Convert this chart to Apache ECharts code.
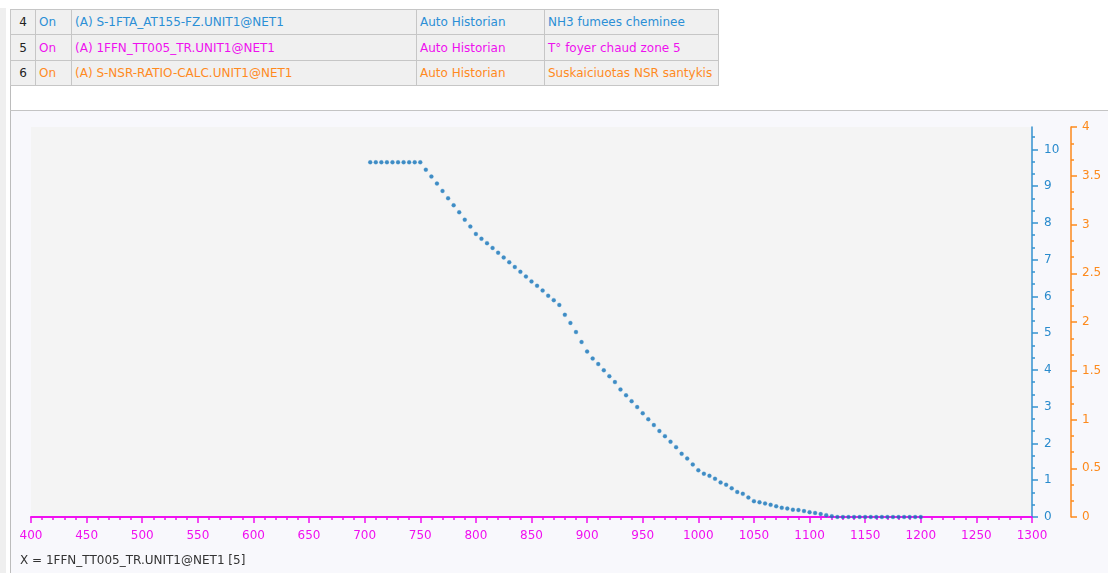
<!DOCTYPE html>
<html>
<head>
<meta charset="utf-8">
<script src="https://cdn.jsdelivr.net/npm/echarts@6/dist/echarts.min.js"></script>
<style>
  html, body { margin:0; padding:0; width:1108px; height:573px; overflow:hidden; background:#ffffff; font-family:"DejaVu Sans", sans-serif; }
  #strip { position:absolute; left:0; top:8px; width:6px; height:565px; background:#efefef; }
  #frame { position:absolute; left:10px; top:85px; width:1098px; height:488px; border-left:1px solid #bcbcbc; box-sizing:border-box; }
  #hline { position:absolute; left:10px; top:110px; width:1098px; height:1px; background:#c4c4c4; }
  #tbl { position:absolute; left:10px; top:9px; border-collapse:collapse; font-size:12px; background:#f0f0f0; }
  #tbl td { border:1px solid #c6c6c6; height:25px; padding:0 0 0 3px; white-space:nowrap; box-sizing:border-box; }
  #tbl td.n { text-align:center; padding:0; color:#222; width:25px; }
  #chart { position:absolute; left:11px; top:111px; width:1097px; height:462px; background:#f8f8fc; }
</style>
</head>
<body>
<div id="strip"></div>
<div id="frame"></div>
<div id="hline"></div>
<table id="tbl"></table>
<div id="chart"></div>
<script>
// ---- data ----
const rowNumbers = ['4', '5', '6'];
const rowStates = ['On', 'On', 'On'];
const rowTags = ['(A) S-1FTA_AT155-FZ.UNIT1@NET1', '(A) 1FFN_TT005_TR.UNIT1@NET1', '(A) S-NSR-RATIO-CALC.UNIT1@NET1'];
const rowSources = ['Auto Historian', 'Auto Historian', 'Auto Historian'];
const rowDescriptions = ['NH3 fumees cheminee', 'T\u00b0 foyer chaud zone 5', 'Suskaiciuotas NSR santykis'];
const rowColors = ['#2b8fd6', '#ee10ee', '#ff8a1e'];

// X: 1FFN_TT005_TR (T° foyer chaud zone 5)
const temps = [
  705, 710, 715, 720, 725, 730, 735, 740, 745, 750,
  755, 760, 765, 770, 775, 780, 785, 790, 795, 800,
  805, 810, 815, 820, 825, 830, 835, 840, 845, 850,
  855, 860, 865, 870, 875, 880, 885, 890, 895, 900,
  905, 910, 915, 920, 925, 930, 935, 940, 945, 950,
  955, 960, 965, 970, 975, 980, 985, 990, 995, 1000,
  1005, 1010, 1015, 1020, 1025, 1030, 1035, 1040, 1045, 1050,
  1055, 1060, 1065, 1070, 1075, 1080, 1085, 1090, 1095, 1100,
  1105, 1110, 1115, 1120, 1125, 1130, 1135, 1140, 1145, 1150,
  1155, 1160, 1165, 1170, 1175, 1180, 1185, 1190, 1195, 1200
];
// Y: S-1FTA_AT155-FZ (NH3 fumees cheminee)
const nh3 = [
  9.65, 9.65, 9.65, 9.65, 9.65, 9.65, 9.65, 9.65, 9.65, 9.65,
  9.45, 9.26, 9.07, 8.87, 8.67, 8.48, 8.29, 8.09, 7.90, 7.70,
  7.57, 7.45, 7.32, 7.19, 7.06, 6.93, 6.80, 6.67, 6.54, 6.41,
  6.29, 6.16, 6.02, 5.90, 5.77, 5.50, 5.28, 5.03, 4.76, 4.50,
  4.31, 4.16, 3.99, 3.83, 3.67, 3.47, 3.31, 3.15, 2.99, 2.82,
  2.66, 2.50, 2.34, 2.20, 2.05, 1.90, 1.72, 1.59, 1.43, 1.27,
  1.18, 1.12, 1.04, 0.94, 0.88, 0.78, 0.68, 0.63, 0.53, 0.43,
  0.40, 0.37, 0.33, 0.29, 0.25, 0.23, 0.20, 0.19, 0.16, 0.13,
  0.11, 0.08, 0.05, 0.02, 0, 0, 0, 0, 0, 0,
  0, 0, 0, 0, 0, 0, 0, 0, 0, 0
];
const leftTicks = [0, 1, 2, 3, 4, 5, 6, 7, 8, 9, 10];
const xLabel = 'X = 1FFN_TT005_TR.UNIT1@NET1 [5]';

// ---- table ----
const tbl = document.getElementById('tbl');
const widths = [25, 36, 345, 128, 174];
rowNumbers.forEach((n, i) => {
  const tr = document.createElement('tr');
  const cells = [n, rowStates[i], rowTags[i], rowSources[i], rowDescriptions[i]];
  cells.forEach((c, j) => {
    const td = document.createElement('td');
    td.textContent = c;
    td.style.width = widths[j] + 'px';
    td.style.minWidth = widths[j] + 'px';
    td.style.maxWidth = widths[j] + 'px';
    if (j === 0) td.className = 'n'; else td.style.color = rowColors[i];
    if (i === 1) td.style.height = '26px';
    tr.appendChild(td);
  });
  tbl.appendChild(tr);
});

// ---- chart ----
const minorLeft = [];
for (let k = 0; k < leftTicks.length; k++) {
  minorLeft.push(leftTicks[k] + 1 / 3, leftTicks[k] + 2 / 3);
}
const BLUE = '#3592d0';
const MAG = '#f010f0';
const ORA = '#fd8a1c';
const plain = v => String(v);
const chart = echarts.init(document.getElementById('chart'));
chart.setOption({
  animation: false,
  textStyle: { fontFamily: 'DejaVu Sans' },
  grid: { left: 20, right: 76, top: 16, bottom: 56, show: true, backgroundColor: '#f4f4f4', borderWidth: 0 },
  xAxis: {
    type: 'value', min: 400, max: 1300, interval: 50,
    axisLine: { show: true, onZero: false, lineStyle: { color: MAG, width: 2 } },
    axisTick: { show: true, length: 6, lineStyle: { color: MAG, width: 1.5 } },
    minorTick: { show: true, splitNumber: 5, length: 3, lineStyle: { color: MAG, width: 1.5 } },
    axisLabel: { color: MAG, fontSize: 12, margin: 13, formatter: plain },
    splitLine: { show: false }
  },
  yAxis: [
    {
      type: 'value', position: 'right', offset: 0, min: 0, max: 10.61, interval: 1,
      axisLine: { show: true, lineStyle: { color: BLUE, width: 1.5 } },
      axisTick: { show: true, length: 6, customValues: leftTicks, lineStyle: { color: BLUE, width: 1.5 } },
      axisLabel: { color: '#2a8bcd', fontSize: 12, margin: 12, customValues: leftTicks, formatter: plain },
      splitLine: { show: false }
    },
    {
      type: 'value', position: 'right', offset: 39, min: 0, max: 4, interval: 0.5,
      axisLine: { show: true, lineStyle: { color: ORA, width: 1.5 } },
      axisTick: { show: true, length: 6, lineStyle: { color: ORA, width: 1.5 } },
      minorTick: { show: true, splitNumber: 3, length: 3, lineStyle: { color: ORA, width: 1.5 } },
      axisLabel: { color: ORA, fontSize: 12, margin: 11, formatter: plain },
      splitLine: { show: false }
    },
    {
      type: 'value', position: 'right', offset: 0, min: 0, max: 10.61, interval: 1,
      axisLine: { show: false },
      axisTick: { show: true, length: 3, customValues: minorLeft, lineStyle: { color: BLUE, width: 1.5 } },
      axisLabel: { show: false },
      splitLine: { show: false }
    }
  ],
  series: [{
    name: 'NH3 fumees cheminee',
    type: 'scatter',
    xAxisIndex: 0, yAxisIndex: 0,
    data: temps.map((t, i) => [t, nh3[i]]),
    symbol: 'circle',
    symbolSize: 4,
    itemStyle: { color: '#1272b8', borderColor: 'rgba(70,150,210,0.35)', borderWidth: 1 },
    z: 5
  }],
  graphic: [{
    type: 'text', left: 9, top: 444,
    style: { text: xLabel, fill: '#333333', font: '12px "DejaVu Sans"' }
  }]
});
</script>
</body>
</html>
